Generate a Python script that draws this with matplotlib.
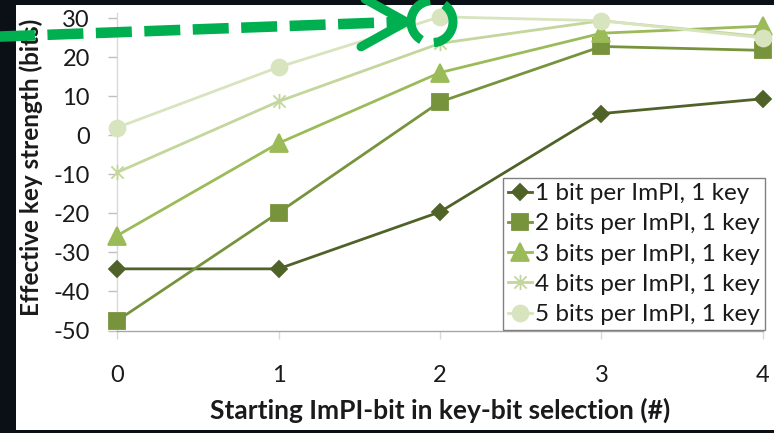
import matplotlib
matplotlib.use("Agg")
import matplotlib.pyplot as plt
from matplotlib.path import Path
from matplotlib.patches import Rectangle, Arc

plt.rcParams['font.family'] = ['Lato', 'DejaVu Sans']
plt.rcParams['axes.unicode_minus'] = False
plt.rcParams['lines.scale_dashes'] = False

# ---- data ----
x_positions = [0, 1, 2, 3, 4]
x_ticklabels = ["0", "1", "2", "3", "4"]
y_ticks = [-50, -40, -30, -20, -10, 0, 10, 20, 30]

one_bit = [-34.2, -34.2, -19.6, 5.6, 9.4]
two_bits = [-47.5, -19.8, 8.6, 22.8, 21.8]
three_bits = [-25.7, -2.0, 16.1, 26.2, 28.0]
four_bits = [-9.5, 8.7, 23.6, 29.4, 25.3]
five_bits = [2.0, 17.5, 30.4, 29.4, 25.0]

labels = ["1 bit per ImPI, 1 key", "2 bits per ImPI, 1 key",
          "3 bits per ImPI, 1 key", "4 bits per ImPI, 1 key",
          "5 bits per ImPI, 1 key"]
colors = ["#4F6228", "#77933C", "#9BBB59", "#C3D69B", "#D7E4BD"]

xlabel = "Starting ImPI-bit in key-bit selection (#)"
ylabel = "Effective key strength (bits)"

W, H = 774, 433
fig = plt.figure(figsize=(W / 100, H / 100), dpi=100, facecolor="#0b1016")

# white slide panel behind the chart
fig.add_artist(Rectangle((16 / W, 3 / H), (W - 16) / W, 425 / H,
                         transform=fig.transFigure, facecolor="white",
                         edgecolor="none", zorder=0))

ax = fig.add_axes([117 / W, 1 - 330.5 / H, (763 - 117) / W, (330.5 - 13.3) / H])
ax.set_facecolor("none")
ax.set_xlim(0, 4)
ax.set_ylim(-50, 31.3)

# asterisk marker: an X with a vertical bar
asterisk = Path([(-1, -1), (1, 1), (-1, 1), (1, -1), (0, -1.25), (0, 1.25)],
                [Path.MOVETO, Path.LINETO, Path.MOVETO, Path.LINETO,
                 Path.MOVETO, Path.LINETO])

series = [one_bit, two_bits, three_bits, four_bits, five_bits]
markers = ["D", "s", "^", asterisk, "o"]
msizes = [8.5, 12, 13, 11, 11.5]
for vals, lab, col, mk, ms in zip(series, labels, colors, markers, msizes):
    ax.plot(x_positions, vals, color=col, lw=2.0, marker=mk, markersize=ms,
            markerfacecolor=col, markeredgecolor=col, markeredgewidth=1.3,
            label=lab, clip_on=False, zorder=3)

for side in ("top", "right"):
    ax.spines[side].set_visible(False)
ax.spines["left"].set_color("#d9d9d9")
ax.spines["bottom"].set_color("#a6a6a6")
ax.spines["left"].set_linewidth(1.0)
ax.spines["bottom"].set_linewidth(1.0)

ax.set_xticks(x_positions)
ax.set_xticklabels(x_ticklabels)
ax.set_yticks(y_ticks)
ax.set_yticklabels([str(v) for v in y_ticks])
ax.tick_params(axis="y", length=6.5, width=1, color="#bfbfbf", pad=13,
               labelsize=17, labelcolor="#1a1a1a")
ax.tick_params(axis="x", length=6, width=1, color="#d9d9d9", pad=19,
               labelsize=17, labelcolor="#1a1a1a")

fig.text(440 / W, 1 - 410 / H, xlabel, ha="center", va="center",
         fontsize=19, fontweight="bold", color="#1a1a1a")
fig.text(31 / W, 1 - 167 / H, ylabel, ha="center", va="center",
         rotation=90, fontsize=17.5, fontweight="bold", color="#1a1a1a")

leg = ax.legend(loc="lower right", bbox_to_anchor=(765 / W, 1 - 330 / H),
                bbox_transform=fig.transFigure, fontsize=17.5, frameon=True,
                fancybox=False, framealpha=1, edgecolor="#808080",
                borderpad=0.2, labelspacing=0.38, handlelength=1.0,
                handletextpad=0.12, borderaxespad=0)
leg.get_frame().set_linewidth(1.0)
for t in leg.get_texts():
    t.set_color("#1a1a1a")

# green callout: dashed pointer and ring around the peak
ov = fig.add_axes([0, 0, 1, 1], zorder=10)
ov.set_xlim(0, W)
ov.set_ylim(0, H)
ov.axis("off")
ov.patch.set_alpha(0)

green = "#00B050"
tx, ty = ax.transData.transform((2, five_bits[2]))
cx, cy = tx - 8, ty - 5
tipx, tipy = cx - 26, cy
ov.plot([-26, tipx - 4], [H - 37.5, tipy], color=green, lw=7.6,
        linestyle=(0, (25.9, 9.0)), solid_capstyle="butt", dash_capstyle="butt")
ov.plot([tipx - 45, tipx, tipx - 45], [tipy + 25, tipy, tipy - 25],
        color=green, lw=6.5, solid_capstyle="round", solid_joinstyle="round")
ov.add_patch(Arc((cx, cy), 42, 42, theta1=95, theta2=240, color=green, lw=6.5))
ov.add_patch(Arc((cx, cy), 42, 42, theta1=275, theta2=415, color=green, lw=6.5))

fig.savefig("out.png", dpi=100, facecolor=fig.get_facecolor())
